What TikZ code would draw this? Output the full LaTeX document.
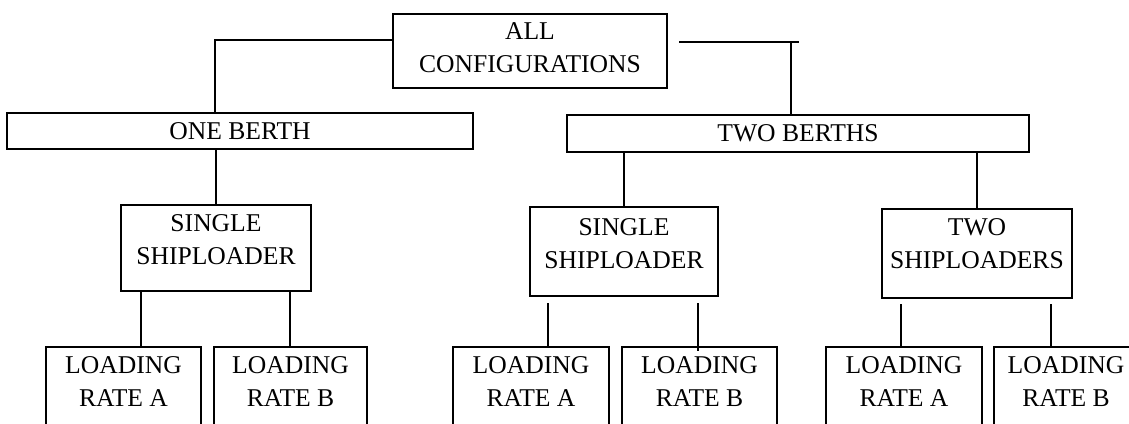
\documentclass[tikz,border=0pt]{standalone}
\usepackage{fontspec}
\setmainfont{Liberation Serif}
\begin{document}
\begin{tikzpicture}[x=1pt,y=-1pt,
  txt/.style={font=\fontsize{25.6}{33}\selectfont, align=center},
  box/.style={draw, line width=2.2pt, inner sep=0pt, txt},
  framed/.style={draw, line width=2.2pt, inner sep=0pt},
  openbox/.style={framed, minimum height=123pt},
  caption/.style 2 args={label={[txt, inner sep=0pt, anchor=center, yshift=#2]center:{#1}}},
  rate/.style={label={[txt, inner sep=0pt, anchor=north, yshift=-10pt]north:{#1}}},
  link/.style={line width=1.6pt}]
\useasboundingbox (0,0) rectangle (1129,423);
\clip (0,0) rectangle (1129,423);

% tree levels
\node[framed, minimum width=274pt, minimum height=74pt, caption={ALL\\CONFIGURATIONS}{3pt}] (all) at (530,51) {};
\node[box, minimum width=466pt, minimum height=36pt] (one) at (240,131) {ONE BERTH};
\node[box, minimum width=462pt, minimum height=37pt] (two) at (798,133.5) {TWO BERTHS};
\node[framed, minimum width=190pt, minimum height=86pt, caption={SINGLE\\SHIPLOADER}{8pt}] (ssL) at (216,248) {};
\node[framed, minimum width=188pt, minimum height=89pt, caption={SINGLE\\SHIPLOADER}{8pt}] (ssM) at (624,251.5) {};
\node[framed, minimum width=190pt, minimum height=89pt, caption={TWO\\SHIPLOADERS}{10pt}] (ssR) at (977,253.5) {};

% loading-rate boxes run off the lower edge
\node[openbox, minimum width=155pt, rate={LOADING\\RATE A}] (laL) at (123.5,408.5) {};
\node[openbox, minimum width=153pt, rate={LOADING\\RATE B}] (lbL) at (290.5,408.5) {};
\node[openbox, minimum width=156pt, rate={LOADING\\RATE A}] (laM) at (531,408.5) {};
\node[openbox, minimum width=155pt, rate={LOADING\\RATE B}] (lbM) at (699.5,408.5) {};
\node[openbox, minimum width=156pt, rate={LOADING\\RATE A}] (laR) at (904,408.5) {};
\node[openbox, minimum width=144pt, rate={LOADING\\RATE B}] (lbR) at (1066,408.5) {};

% connectors
\draw[link] ([yshift=11pt]all.west) -| ([xshift=-25pt]one.north);
\coordinate (rs) at (679,42);
\coordinate (re) at (799,42);
\coordinate (rj) at (791,42);
\draw[link] (rs) -- (re);
\draw[link] (rj) -- (rj |- two.north);
\draw[link] (ssL.north) -- (ssL.north |- one.south);
\draw[link] (ssM.north) -- (ssM.north |- two.south);
\draw[link] (ssR.north) -- (ssR.north |- two.south);

\coordinate (x1) at (141,0);
\coordinate (x2) at (290,0);
\coordinate (x3) at (548,0);
\coordinate (x4) at (698,0);
\coordinate (x5) at (901,0);
\coordinate (x6) at (1051,0);
\draw[link] (x1 |- ssL.south) -- (x1 |- laL.north);
\draw[link] (x2 |- ssL.south) -- (x2 |- lbL.north);
\draw[link] ([yshift=-6pt]x3 |- ssM.south) -- (x3 |- laM.north);
\draw[link] ([yshift=-6pt]x4 |- ssM.south) -- ([yshift=-5pt]x4 |- lbM.north);
\draw[link] ([yshift=-5pt]x5 |- ssR.south) -- (x5 |- laR.north);
\draw[link] ([yshift=-5pt]x6 |- ssR.south) -- (x6 |- lbR.north);
\end{tikzpicture}
\end{document}
